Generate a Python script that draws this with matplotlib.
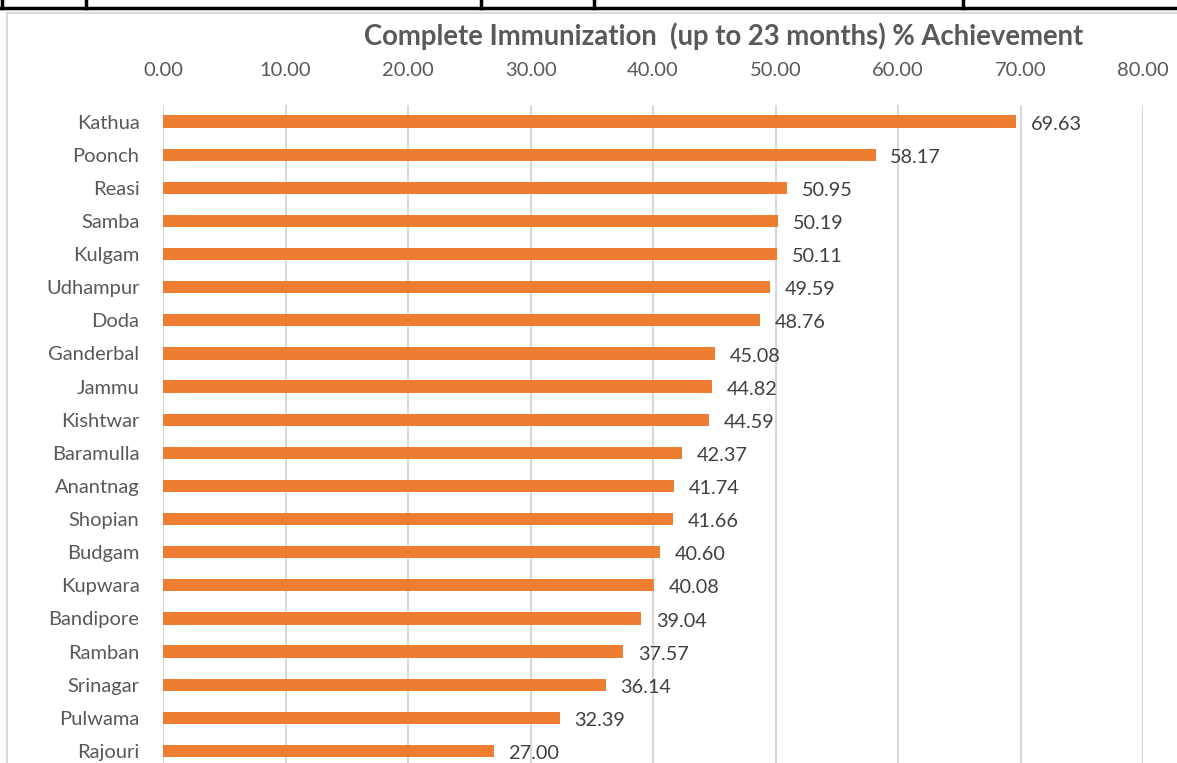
import matplotlib.pyplot as plt
from matplotlib.lines import Line2D
from matplotlib.patches import Rectangle

plt.rcParams['font.family'] = ['Lato', 'DejaVu Sans']

districts = ['Kathua', 'Poonch', 'Reasi', 'Samba', 'Kulgam', 'Udhampur', 'Doda',
             'Ganderbal', 'Jammu', 'Kishtwar', 'Baramulla', 'Anantnag', 'Shopian',
             'Budgam', 'Kupwara', 'Bandipore', 'Ramban', 'Srinagar', 'Pulwama',
             'Rajouri']
achievement = [69.63, 58.17, 50.95, 50.19, 50.11, 49.59, 48.76, 45.08, 44.82,
               44.59, 42.37, 41.74, 41.66, 40.60, 40.08, 39.04, 37.57, 36.14,
               32.39, 27.00]
x_ticks = [0, 10, 20, 30, 40, 50, 60, 70, 80]

W, H = 1177, 763
fig = plt.figure(figsize=(W / 100, H / 100), dpi=100)

# chart area in pixel terms (top-left origin)
left, right, top, bottom = 163, 1143, 105, 767.5
ax = fig.add_axes([left / W, 1 - bottom / H, (right - left) / W, (bottom - top) / H])

grey = '#595959'
pos = list(range(len(districts)))
ax.barh(pos, achievement, height=0.37, color='#ED7D31', zorder=3)
for p, v in zip(pos, achievement):
    ax.text(v + 1.2, p + 0.08, '%.2f' % v, va='center', ha='left',
            fontsize=14.3, color='#404040')

ax.set_ylim(len(districts) - 0.5, -0.5)
ax.set_xlim(0, 80)
ax.set_yticks(pos)
ax.set_yticklabels(districts, fontsize=14.5, color=grey)
ax.set_xticks(x_ticks)
ax.set_xticklabels(['%.2f' % t for t in x_ticks], fontsize=14.5, color=grey)
ax.xaxis.tick_top()
ax.tick_params(axis='x', length=0, pad=19)
ax.tick_params(axis='y', length=0, pad=17)
ax.grid(axis='x', color='#D9D9D9', linewidth=1.5, zorder=0)
for s in ax.spines.values():
    s.set_visible(False)

fig.text(724 / W, 1 - 36 / H, 'Complete Immunization  (up to 23 months) % Achievement',
         ha='center', va='center', fontsize=19.8, fontweight='bold', color=grey)

# chart frame (light grey border)
fig.add_artist(Rectangle((7 / W, -0.1), 1.2, 1 - 13 / H + 0.1, transform=fig.transFigure,
                         fill=False, edgecolor='#D9D9D9', linewidth=1.5))

# table lines of the surrounding document
fig.add_artist(Line2D([0, 1], [1 - 8 / H, 1 - 8 / H], transform=fig.transFigure,
                      color='black', linewidth=2.5))
for xv in [2, 86, 481, 594, 963]:
    fig.add_artist(Line2D([xv / W, xv / W], [1 - 8 / H, 1], transform=fig.transFigure,
                          color='black', linewidth=2.5))

fig.savefig('out.png', dpi=100)
